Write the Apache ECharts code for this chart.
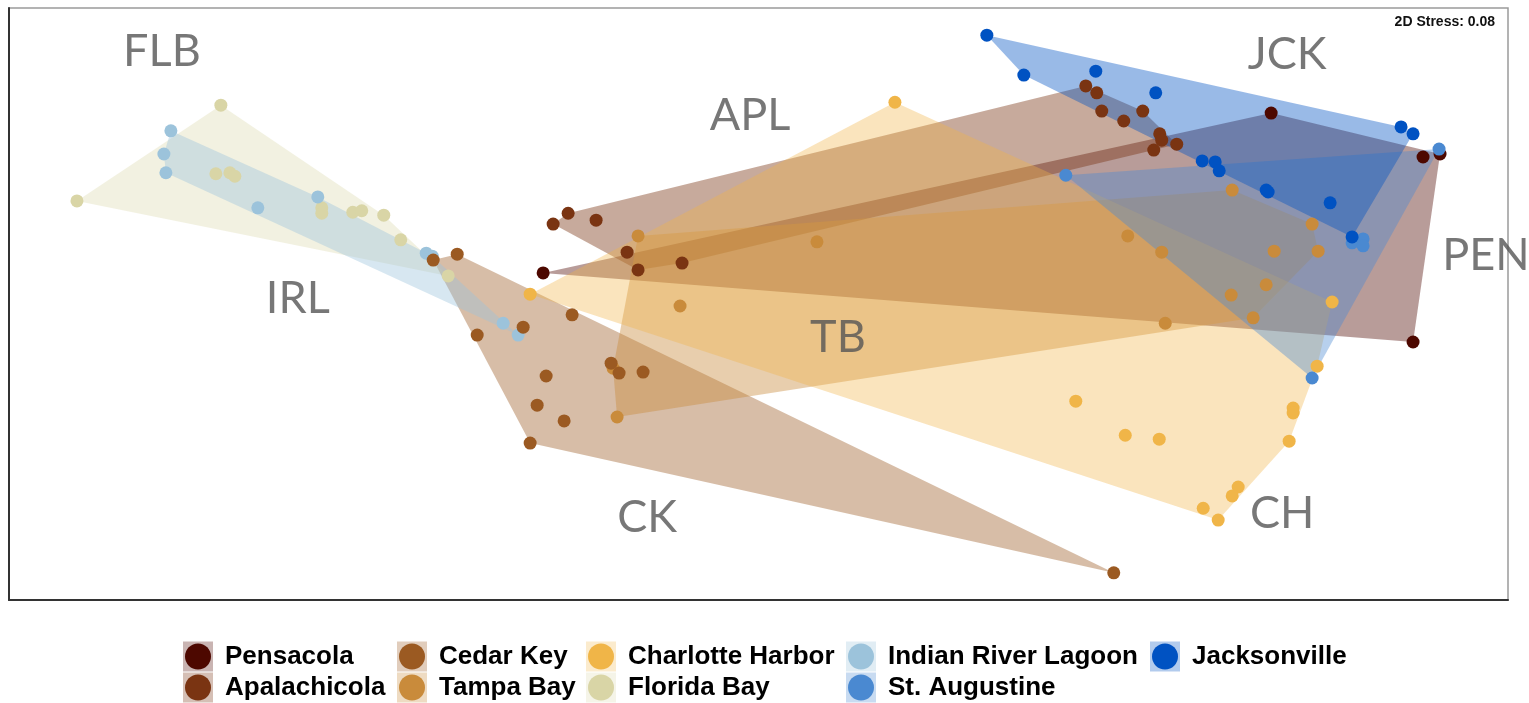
<!DOCTYPE html>
<html><head><meta charset="utf-8">
<script src="https://cdn.jsdelivr.net/npm/echarts@6/dist/echarts.min.js"></script>
<style>html,body{margin:0;padding:0;background:#fff}#c{width:1529px;height:703px}</style>
</head><body><div id="c"></div>
<script>
// NMDS ordination scores (axis 1, axis 2)
const pensacola = [[-0.431,0.063],[1.026,0.387],[1.330,0.298],[1.364,0.304],[1.310,-0.077]];
const apalachicola = [[-0.411,0.162],[-0.381,0.184],[-0.325,0.170],[-0.263,0.105],[-0.241,0.069],[-0.153,0.083],
  [0.655,0.442],[0.677,0.428],[0.687,0.391],[0.731,0.371],[0.769,0.391],[0.803,0.345],[0.807,0.332],[0.791,0.312],[0.837,0.324]];
const cedarKey = [[-0.651,0.089],[-0.603,0.101],[-0.373,-0.022],[-0.563,-0.063],[-0.471,-0.047],[-0.425,-0.146],
  [-0.443,-0.205],[-0.389,-0.237],[-0.457,-0.282],[-0.295,-0.120],[-0.279,-0.140],[-0.231,-0.138],[0.711,-0.545]];
const tampaBay = [[-0.241,0.138],[0.117,0.126],[-0.157,-0.004],[-0.291,-0.130],[-0.283,-0.229],[0.739,0.138],
  [0.807,0.105],[0.814,-0.039],[0.948,0.231],[1.108,0.162],[1.032,0.107],[1.120,0.107],[1.016,0.039],[0.946,0.018],[0.990,-0.028]];
const charlotteHarbor = [[-0.457,0.020],[0.273,0.409],[1.148,0.004],[1.118,-0.126],[1.070,-0.211],[1.070,-0.221],
  [1.062,-0.278],[0.635,-0.197],[0.734,-0.266],[0.802,-0.274],[0.960,-0.371],[0.948,-0.389],[0.890,-0.414],[0.920,-0.438]];
const floridaBay = [[-1.076,0.403],[-1.364,0.209],[-1.086,0.264],[-1.058,0.266],[-1.048,0.259],[-0.874,0.195],
  [-0.874,0.184],[-0.812,0.186],[-0.794,0.189],[-0.750,0.180],[-0.716,0.130],[-0.621,0.057]];
const indianRiverLagoon = [[-1.176,0.351],[-1.190,0.304],[-1.186,0.266],[-1.002,0.195],[-0.882,0.217],
  [-0.665,0.103],[-0.653,0.097],[-0.511,-0.039],[-0.481,-0.063]];
const stAugustine = [[0.615,0.261],[1.362,0.314],[1.188,0.124],[1.210,0.132],[1.210,0.118],[1.108,-0.150]];
const jacksonville = [[0.457,0.545],[0.531,0.464],[0.675,0.472],[0.795,0.428],[1.286,0.359],[1.310,0.345],
  [0.888,0.290],[0.914,0.288],[0.922,0.270],[1.016,0.231],[1.020,0.227],[1.144,0.205],[1.188,0.136]];

const groupNames = ['Pensacola','Apalachicola','Cedar Key','Tampa Bay','Charlotte Harbor','Florida Bay','Indian River Lagoon','St. Augustine','Jacksonville'];
const labelNames = ['FLB','APL','JCK','PEN','IRL','TB','CK','CH'];
const labelPositions = [[-1.194,0.511],[-0.017,0.383],[1.058,0.505],[1.456,0.099],[-0.922,0.012],[0.159,-0.067],[-0.223,-0.432],[1.048,-0.424]];
const stressText = '2D Stress: 0.08';
const legendColumns = [['Pensacola','Apalachicola'],['Cedar Key','Tampa Bay'],['Charlotte Harbor','Florida Bay'],['Indian River Lagoon','St. Augustine'],['Jacksonville']];

const groupData = [pensacola, apalachicola, cedarKey, tampaBay, charlotteHarbor, floridaBay, indianRiverLagoon, stAugustine, jacksonville];
const colors = {
  'Pensacola':'#4d0800','Apalachicola':'#7a3412','Cedar Key':'#9b5a22','Tampa Bay':'#c98b3b',
  'Charlotte Harbor':'#f0b548','Florida Bay':'#d9d5a6','Indian River Lagoon':'#9cc3db',
  'St. Augustine':'#4a89d1','Jacksonville':'#0052c2'
};
const alphas = {'Pensacola':0.4,'Apalachicola':0.42,'Cedar Key':0.4,'Tampa Bay':0.42,'Charlotte Harbor':0.36,
  'Florida Bay':0.34,'Indian River Lagoon':0.4,'St. Augustine':0.4,'Jacksonville':0.4};
function tint(hex,a){const n=parseInt(hex.slice(1),16);return 'rgba('+(n>>16)+','+((n>>8)&255)+','+(n&255)+','+a+')';}

function hull(pts){
  const p=pts.map(a=>a.slice()).sort((a,b)=>a[0]-b[0]||a[1]-b[1]);
  const cr=(o,a,b)=>(a[0]-o[0])*(b[1]-o[1])-(a[1]-o[1])*(b[0]-o[0]);
  const lo=[];for(const q of p){while(lo.length>=2&&cr(lo[lo.length-2],lo[lo.length-1],q)<=0)lo.pop();lo.push(q);}
  const up=[];for(let i=p.length-1;i>=0;i--){const q=p[i];while(up.length>=2&&cr(up[up.length-2],up[up.length-1],q)<=0)up.pop();up.push(q);}
  lo.pop();up.pop();return lo.concat(up);
}

const chart = echarts.init(document.getElementById('c'), null, {renderer:'canvas'});
const series = [];
groupNames.forEach((name,i)=>{
  const h = hull(groupData[i]);
  series.push({
    type:'custom', name: name+' hull', silent:true, z:1, clip:true,
    data:[[0,0]],
    renderItem:(params,api)=>({type:'polygon', shape:{points:h.map(p=>api.coord(p))}, style:{fill:tint(colors[name],alphas[name])}})
  });
});
const pointOrder = ['Pensacola','Apalachicola','Tampa Bay','Charlotte Harbor','Florida Bay','Indian River Lagoon','Cedar Key','St. Augustine','Jacksonville'];
pointOrder.forEach((name,k)=>{
  const i = groupNames.indexOf(name);
  series.push({type:'scatter', name, data:groupData[i], symbolSize:13, z:3+k*0.01,
    itemStyle:{color:colors[name], opacity:1}, silent:true});
});
series.push({type:'scatter', name:'labels', silent:true, z:6, symbolSize:1, itemStyle:{color:'rgba(0,0,0,0)'},
  data: labelNames.map((n,i)=>({name:n, value:labelPositions[i]})),
  label:{show:true, position:'inside', formatter:'{b}', color:'#555555', fontSize:45, fontWeight:'normal', fontFamily:'Lato, "Open Sans", sans-serif'}});

const legendFont = {fontFamily:'"Liberation Sans", Arial, sans-serif', fontWeight:'bold', fontSize:26, lineHeight:31};
const legendLefts = [183, 397, 586, 846, 1150];
const legends = [];
legendColumns.forEach((col,j)=>{
  legends.push({orient:'vertical', left:legendLefts[j], top:641, height:62, padding:0, itemGap:0, selectedMode:false,
    icon:'rect', itemWidth:30, itemHeight:30,
    data: col.map(n=>({name:n, itemStyle:{color:tint(colors[n],alphas[n]*0.75)}})),
    textStyle:Object.assign({color:'rgba(0,0,0,0)'},legendFont)});
  legends.push({orient:'vertical', left:legendLefts[j]+2, top:641, height:62, padding:0, itemGap:0, selectedMode:false,
    icon:'circle', itemWidth:44, itemHeight:26,
    data: col.map(n=>({name:n, itemStyle:{color:colors[n]}})),
    textStyle:Object.assign({color:'#000'},legendFont)});
});

chart.setOption({
  animation:false,
  backgroundColor:'#fff',
  grid:{left:9, right:21, top:8, bottom:103, show:true, borderColor:'#9a9a9a', borderWidth:1.5, backgroundColor:'transparent'},
  xAxis:{type:'value', min:-1.5, max:1.5, axisLine:{show:true, onZero:false, lineStyle:{color:'#333', width:2}},
    axisTick:{show:false}, axisLabel:{show:false}, splitLine:{show:false}},
  yAxis:{type:'value', min:-0.6, max:0.6, axisLine:{show:true, onZero:false, lineStyle:{color:'#333', width:2}},
    axisTick:{show:false}, axisLabel:{show:false}, splitLine:{show:false}},
  legend: legends,
  graphic:[{type:'text', right:34, top:15, z:10, style:{text:stressText, font:'bold 14px "Liberation Sans", Arial, sans-serif', fill:'#111'}}],
  series
});
</script></body></html>
